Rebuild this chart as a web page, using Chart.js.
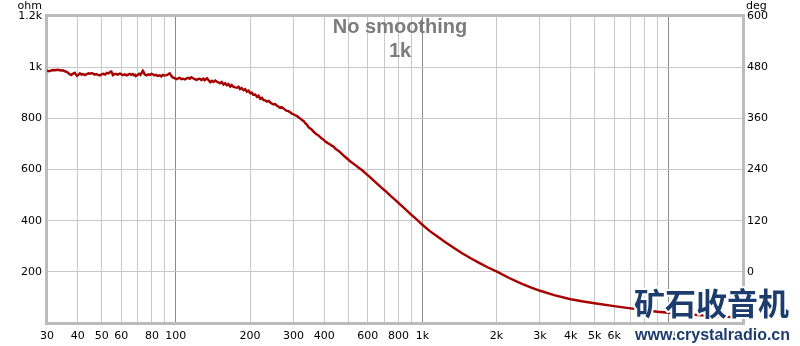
<!DOCTYPE html>
<html>
<head>
<meta charset="utf-8">
<script src="https://cdn.jsdelivr.net/npm/chart.js@4"></script>
<style>
  html, body { margin: 0; padding: 0; background: #fff; }
  #wrap { width: 800px; height: 346px; }
</style>
</head>
<body>
<div id="wrap"><canvas id="c" width="800" height="346"></canvas></div>
<script>
// Impedance sweep, no smoothing (Hz -> ohm)
const freqHz = [
  30, 30.6, 31.2, 31.8, 32.4, 33, 33.6, 34.2, 34.8, 35.4, 36, 36.6, 37.1, 37.6, 38, 38.5, 38.9, 39.3, 39.7, 40.2,
  40.8, 41.4, 42, 42.7, 43.5, 44.2, 44.8, 45.5, 46.1, 46.8, 47.5, 48.3, 49.2, 50, 50.8, 51.6, 52.5, 53.3, 54, 54.6,
  55, 55.5, 56.2, 57, 58, 59.3, 60.2, 61, 62, 63.2, 64, 65, 66, 66.9, 67.6, 68.2, 68.8, 69.4, 70.2, 71,
  71.8, 72.6, 73.4, 74, 74.5, 75.3, 76.2, 77.2, 78.5, 79.5, 80.6, 81.8, 83, 84.5, 86, 87.2, 88.5, 90, 91.9, 93,
  94.4, 95.8, 97.1, 98.8, 100.8, 102.2, 103.7, 105.3, 107, 108.8, 110.7, 112.3, 114, 115.5, 117, 119.2, 121.5, 123.2, 125, 127,
  129.5, 131, 133.7, 136, 137.8, 140, 142, 144.5, 146.8, 149, 151, 153.5, 156.1, 158.5, 161, 163.5, 166.2, 168.5, 171, 174,
  177, 179.5, 182, 185, 188.3, 191, 194, 197, 200.4, 203, 206, 210, 213.4, 216.5, 220, 223.5, 227, 230.5, 234, 238,
  241.6, 245, 249, 253, 257.4, 261, 265, 269, 273.8, 278, 282, 286.5, 291.5, 295.5, 300, 305, 310.4, 315, 320, 325,
  330.2, 335, 340.8, 344, 348, 352, 357.3, 364, 372, 379, 386, 392, 398, 404, 411, 417, 424, 430, 437, 444,
  451, 458, 465.6, 476, 488, 499, 511, 525, 540, 555, 570, 592, 616, 645, 677, 710, 743, 778, 816, 855,
  896, 948, 1000, 1070, 1151, 1240, 1340, 1450, 1571, 1700, 1838, 2017, 2250, 2510, 2750, 3006, 3427, 4000, 4500, 5000,
  6000, 7000, 8000, 9000, 10000, 12000, 14000, 16000, 18000, 20000
];
const impedanceOhm = [
  986, 984, 987, 989, 988, 990, 989, 987, 988, 984, 982, 977, 972, 969, 973, 976, 978, 972, 966, 970,
  976, 971, 973, 969, 973, 976, 974, 977, 975, 971, 973, 970, 968, 972, 974, 971, 978, 976, 980, 983,
  981, 969, 972, 974, 971, 975, 972, 969, 972, 968, 971, 974, 970, 973, 968, 970, 965, 967, 971, 974,
  970, 978, 986, 981, 973, 970, 968, 972, 970, 974, 972, 968, 970, 966, 968, 964, 970, 967, 969, 972,
  976, 966, 960, 957, 953, 956, 958, 953, 955, 952, 956, 958, 955, 961, 958, 953, 950, 954, 955, 950,
  955, 949, 957, 948, 941, 947, 942, 948, 943, 940, 937, 942, 932, 937, 929, 934, 924, 930, 924, 921,
  920, 924, 914, 918, 910, 914, 904, 908, 898, 901, 892, 893, 884, 888, 876, 880, 871, 870, 865, 868,
  862, 858, 854, 856, 849, 845, 841, 844, 838, 833, 829, 828, 823, 818, 816, 812, 809, 803, 799, 793,
  789, 781, 774, 768, 762, 760, 754, 745, 738, 733, 726, 720, 716, 709, 705, 701, 697, 692, 689, 681,
  676, 672, 666, 657, 648, 640, 631, 623, 614, 605, 597, 583, 568, 551, 532, 515, 497, 480, 462, 444,
  426, 405, 384, 360, 338, 316, 294, 273, 253, 235, 218, 200, 176, 155, 139, 126, 109, 93, 84, 77,
  66, 57, 50, 44, 40, 34, 29, 26, 23, 21
];

// Axis ticks and their labels
const freqTicks = [30, 40, 50, 60, 70, 80, 90, 100, 200, 300, 400, 500, 600, 700, 800, 900,
  1000, 2000, 3000, 4000, 5000, 6000, 7000, 8000, 9000, 10000, 20000];
const freqLabels = { 30: '30', 40: '40', 50: '50', 60: '60', 80: '80', 100: '100', 200: '200',
  300: '300', 400: '400', 600: '600', 800: '800', 1000: '1k', 2000: '2k', 3000: '3k', 4000: '4k',
  5000: '5k', 6000: '6k', 8000: '8k', 10000: '10k', 20000: '20kHz' };
const decadeLines = [100, 1000, 10000];
const ohmLabels = { 200: '200', 400: '400', 600: '600', 800: '800', 1000: '1k', 1200: '1.2k' };
const degLabels = { 0: '0', 120: '120', 240: '240', 360: '360', 480: '480', 600: '600' };

const tickFont = { family: 'DejaVu Sans', size: 11 };

// Frame, axis units, heading and site mark
const decorations = {
  id: 'decorations',
  beforeDatasetsDraw(chart) {
    const { ctx, chartArea: a } = chart;
    ctx.save();
    ctx.strokeStyle = '#bcbcbc';
    ctx.lineWidth = 3;
    ctx.strokeRect(a.left - 0.5, a.top - 0.5, a.right - a.left + 1, a.bottom - a.top + 1);

    ctx.fillStyle = '#000';
    ctx.font = '11px "DejaVu Sans"';
    ctx.textBaseline = 'middle';
    ctx.textAlign = 'right';
    ctx.fillText('ohm', 42, 6);
    ctx.textAlign = 'left';
    ctx.fillText('deg', 746, 6);

    ctx.fillStyle = '#7c7c7c';
    ctx.font = 'bold 20px "Liberation Sans"';
    ctx.textAlign = 'center';
    ctx.textBaseline = 'alphabetic';
    ctx.fillText('No smoothing', 400, 33);
    ctx.fillText('1k', 400, 57);
    ctx.restore();
  },
  afterDraw(chart) {
    const { ctx } = chart;
    ctx.save();
    ctx.lineJoin = 'round';
    ctx.textAlign = 'left';
    ctx.textBaseline = 'middle';
    ctx.font = 'bold 31px "Noto Sans CJK SC"';
    ctx.strokeStyle = '#fff';
    ctx.lineWidth = 4;
    ctx.strokeText('矿石收音机', 634, 303);
    ctx.fillStyle = '#1d3c6e';
    ctx.fillText('矿石收音机', 634, 303);

    ctx.textBaseline = 'alphabetic';
    ctx.font = 'bold 16px "Liberation Sans"';
    ctx.strokeText('www.crystalradio.cn', 635, 339.5);
    ctx.fillText('www.crystalradio.cn', 635, 339.5);
    ctx.restore();
  }
};

new Chart(document.getElementById('c'), {
  type: 'line',
  data: {
    datasets: [{
      data: freqHz.map((f, i) => ({ x: f, y: impedanceOhm[i] })),
      borderColor: '#a80000',
      borderWidth: 2.4,
      pointRadius: 0,
      tension: 0,
      yAxisID: 'y'
    }]
  },
  options: {
    responsive: false,
    animation: false,
    devicePixelRatio: 1,
    layout: { padding: { top: 16, left: 0, right: 0, bottom: 0 } },
    plugins: { legend: { display: false }, tooltip: { enabled: false } },
    scales: {
      x: {
        type: 'logarithmic',
        min: 30,
        max: 20000,
        afterBuildTicks: s => { s.ticks = freqTicks.map(v => ({ value: v })); },
        afterFit: s => { s.height = 23; },
        ticks: {
          autoSkip: false, maxRotation: 0, minRotation: 0, padding: 7,
          font: tickFont, color: '#000',
          callback: v => freqLabels[v] || ''
        },
        grid: {
          drawTicks: false,
          lineWidth: 1,
          color: c => decadeLines.includes(c.tick && c.tick.value) ? '#8a8a8a' : '#c8c8c8'
        },
        border: { display: false }
      },
      y: {
        position: 'left',
        min: 0,
        max: 1200,
        afterFit: s => { s.width = 47; },
        ticks: {
          stepSize: 200, padding: 5, font: tickFont, color: '#000',
          callback: v => ohmLabels[v] || ''
        },
        grid: { drawTicks: false, color: '#c8c8c8', lineWidth: 1 },
        border: { display: false }
      },
      y2: {
        position: 'right',
        min: -120,
        max: 600,
        afterFit: s => { s.width = 57; },
        ticks: {
          stepSize: 120, padding: 4, font: tickFont, color: '#000',
          callback: v => degLabels[v] || ''
        },
        grid: { display: false, drawTicks: false },
        border: { display: false }
      }
    }
  },
  plugins: [decorations]
});
</script>
</body>
</html>
